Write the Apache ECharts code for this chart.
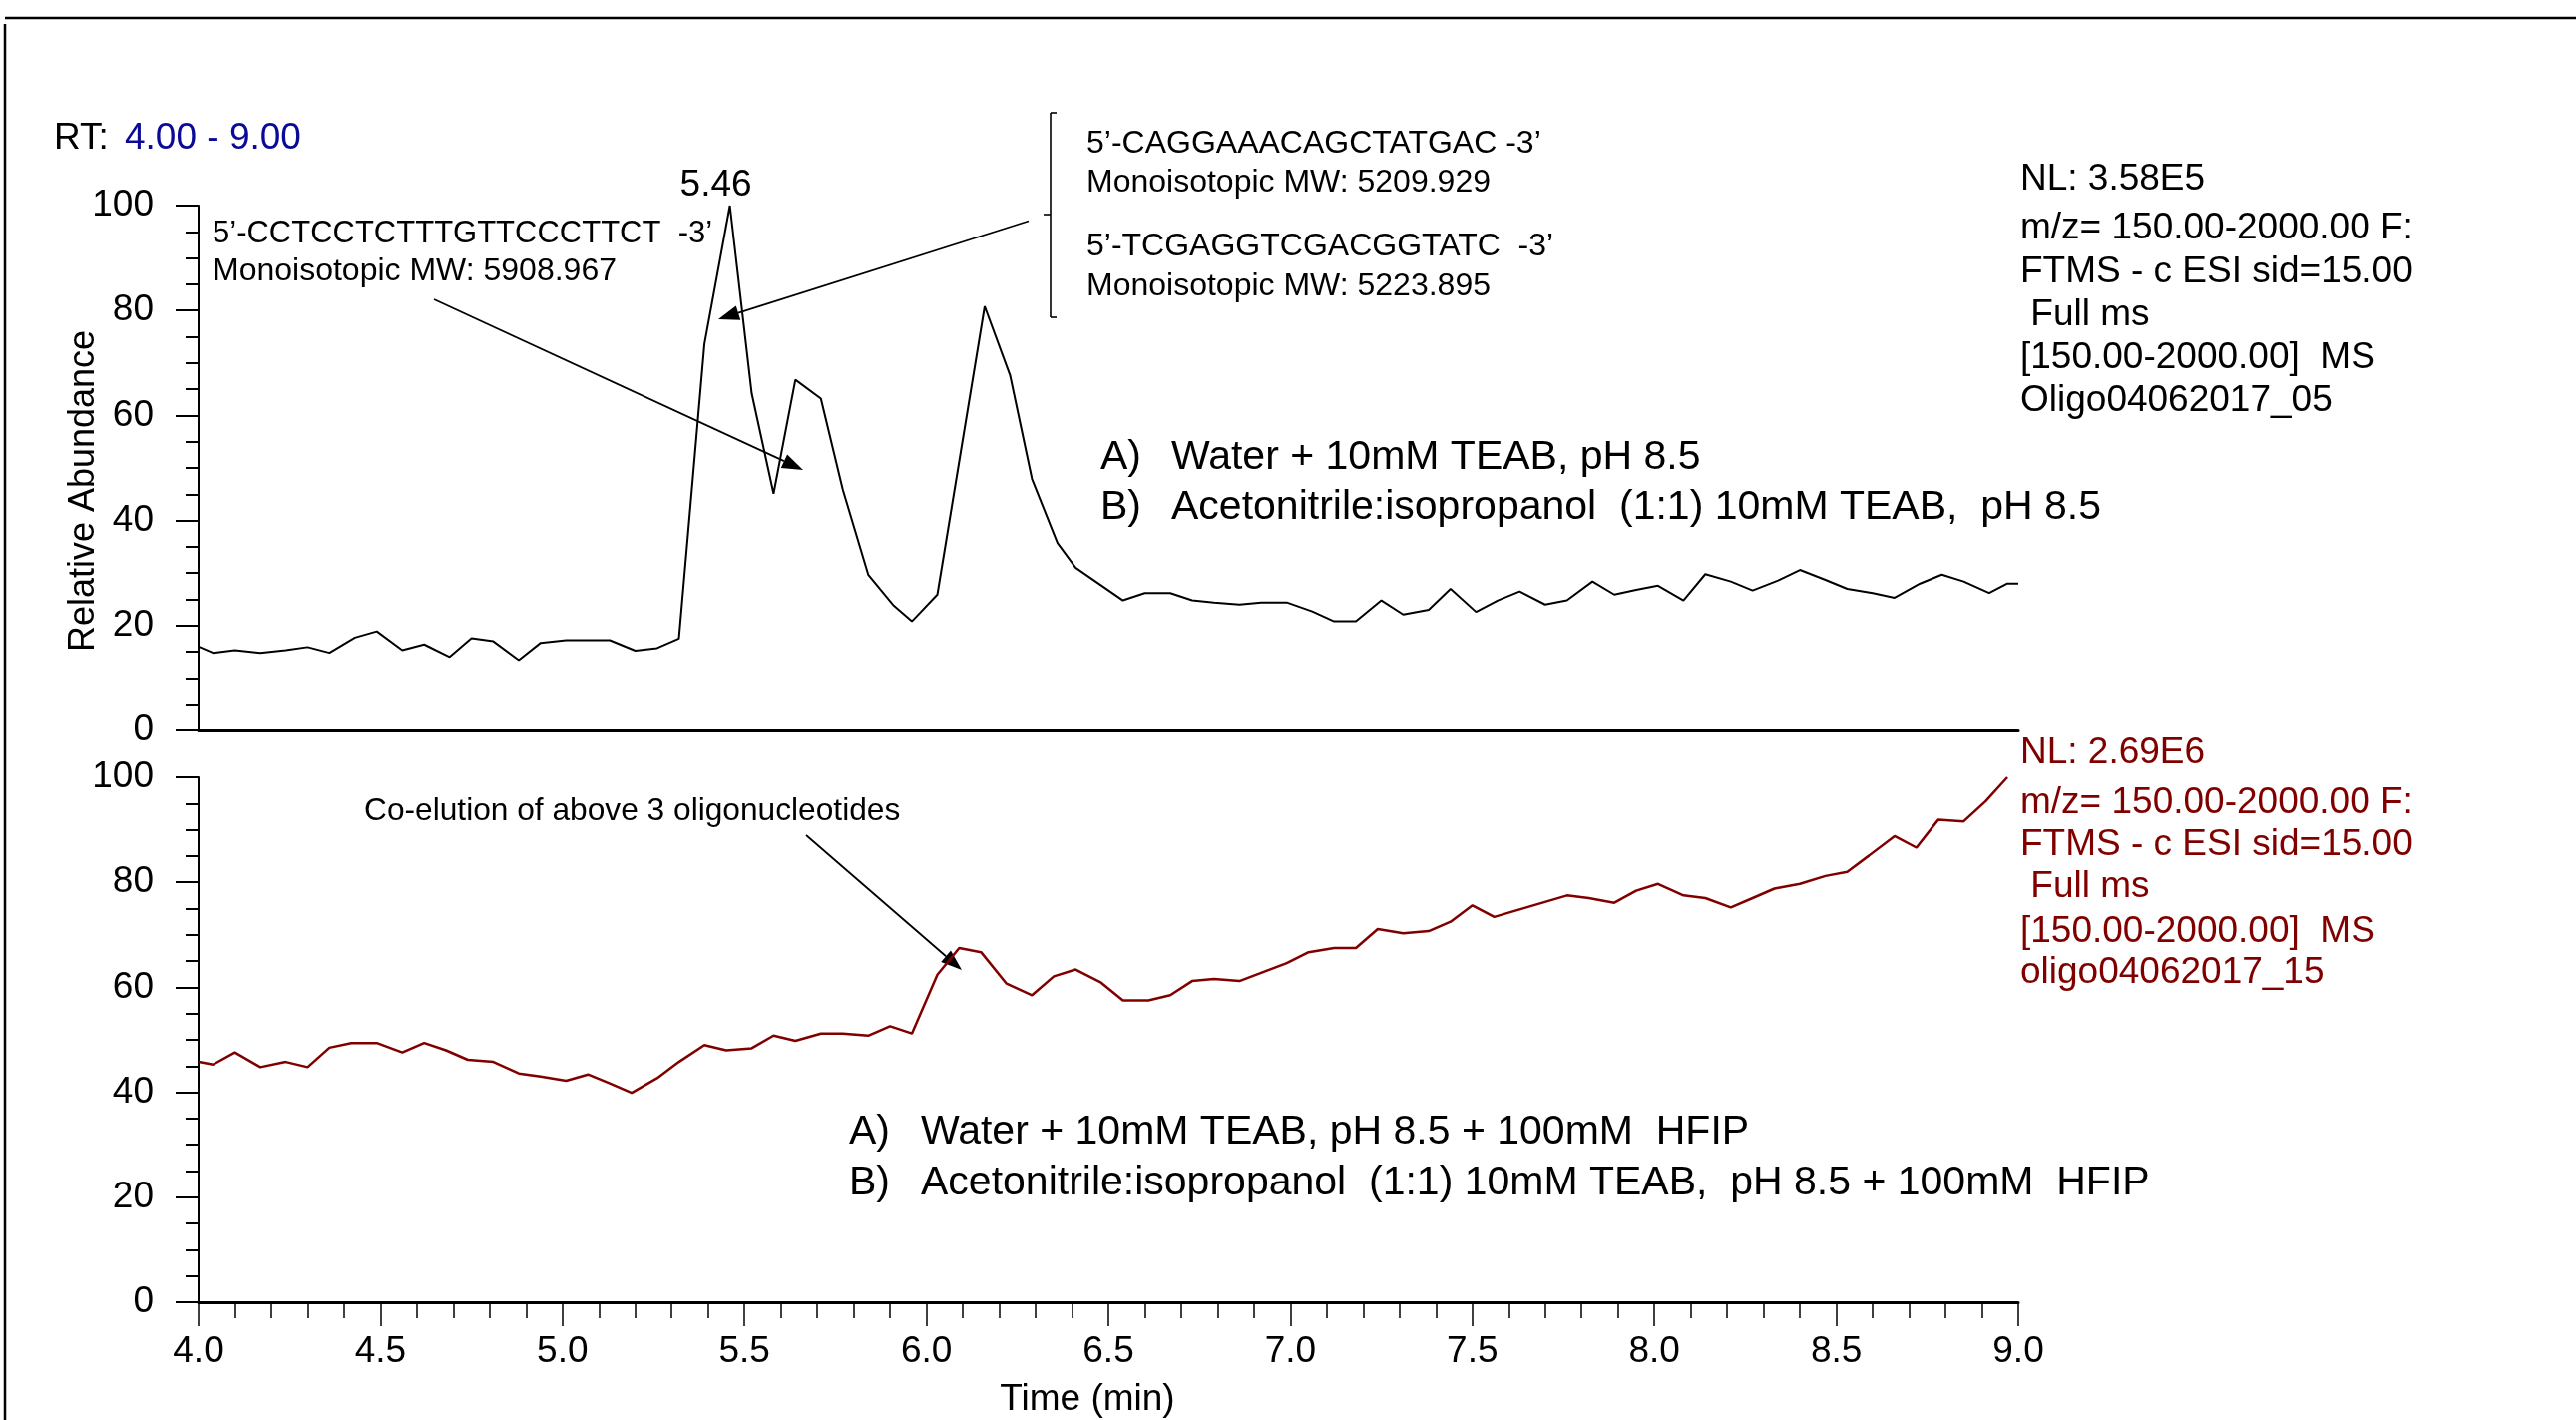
<!DOCTYPE html>
<html>
<head>
<meta charset="utf-8">
<script src="https://cdn.jsdelivr.net/npm/echarts@6/dist/echarts.min.js"></script>
<style>
html, body { margin: 0; padding: 0; background: #fff; }
#chart { width: 2582px; height: 1423px; }
</style>
</head>
<body>
<div id="chart"></div>
<script>
// Retention-time window (min) and relative-abundance range (%)
const timeRange = [4, 9];
const abundanceRange = [0, 100];

// Upper trace: TEAB mobile phase (NL 3.58E5)
const topTime = [4.00, 4.04, 4.10, 4.17, 4.24, 4.30, 4.36, 4.43, 4.49, 4.56, 4.62, 4.69, 4.75, 4.81, 4.88, 4.94,
  5.01, 5.07, 5.13, 5.20, 5.26, 5.32, 5.39, 5.46, 5.52, 5.58, 5.64, 5.71, 5.77, 5.84, 5.91, 5.96,
  6.03, 6.16, 6.23, 6.29, 6.36, 6.41, 6.54, 6.60, 6.67, 6.73, 6.79, 6.86, 6.92, 6.99,
  7.06, 7.12, 7.18, 7.25, 7.31, 7.38, 7.44, 7.51, 7.57, 7.63, 7.70, 7.76, 7.83, 7.89, 7.95,
  8.01, 8.08, 8.14, 8.21, 8.27, 8.34, 8.40, 8.47, 8.53, 8.60, 8.66, 8.73, 8.79, 8.85, 8.92, 8.97, 9.00];
const topValue = [16.0, 14.8, 15.3, 14.8, 15.3, 15.9, 14.8, 17.7, 18.9, 15.3, 16.4, 14.0, 17.6, 17.0, 13.4, 16.7,
  17.2, 17.2, 17.2, 15.2, 15.7, 17.5, 73.6, 100, 64.2, 45.1, 66.8, 63.2, 45.9, 29.7, 23.8, 20.8,
  25.9, 80.8, 67.6, 47.9, 35.7, 31.0, 24.8, 26.2, 26.2, 24.8, 24.4, 24.0, 24.4, 24.4,
  22.7, 20.8, 20.8, 24.8, 22.1, 23.0, 27.0, 22.6, 24.8, 26.5, 24.0, 24.8, 28.4, 25.9, 26.8,
  27.6, 24.8, 29.8, 28.4, 26.7, 28.6, 30.6, 28.7, 27.0, 26.2, 25.3, 28.0, 29.7, 28.4, 26.2, 28.0, 28.0];

// Lower trace: TEAB + HFIP mobile phase (NL 2.69E6)
const botTime = [4.00, 4.04, 4.10, 4.17, 4.24, 4.30, 4.36, 4.42, 4.49, 4.56, 4.62, 4.68, 4.74, 4.81, 4.88, 4.94,
  5.01, 5.07, 5.13, 5.19, 5.26, 5.32, 5.39, 5.45, 5.52, 5.58, 5.64, 5.71, 5.77, 5.84, 5.90, 5.96,
  6.03, 6.09, 6.15, 6.22, 6.29, 6.35, 6.41, 6.48, 6.54, 6.61, 6.67, 6.73, 6.79, 6.86, 6.99,
  7.05, 7.12, 7.18, 7.24, 7.31, 7.38, 7.44, 7.50, 7.56, 7.76, 7.82, 7.89, 7.95,
  8.01, 8.08, 8.14, 8.21, 8.27, 8.33, 8.40, 8.47, 8.53, 8.59, 8.66, 8.72, 8.78, 8.85, 8.91, 8.97];
const botValue = [45.8, 45.3, 47.6, 44.8, 45.8, 44.8, 48.5, 49.4, 49.4, 47.6, 49.4, 48.0, 46.2, 45.8, 43.6, 43.0,
  42.2, 43.4, 41.7, 39.9, 42.7, 45.8, 49.0, 48.0, 48.4, 50.8, 49.8, 51.2, 51.2, 50.8, 52.6, 51.2,
  62.4, 67.5, 66.7, 60.7, 58.5, 62.1, 63.4, 60.9, 57.5, 57.5, 58.5, 61.2, 61.6, 61.2, 64.6,
  66.7, 67.5, 67.5, 71.1, 70.3, 70.7, 72.5, 75.6, 73.4, 77.5, 77.0, 76.1, 78.4,
  79.7, 77.5, 77.0, 75.2, 77.0, 78.8, 79.7, 81.2, 82.0, 85.1, 88.8, 86.6, 91.9, 91.6, 95.4, 100];

const FONT = '"Liberation Sans", Arial, Helvetica, sans-serif';
const MAROON = '#800000';
const NAVY = '#0a0a96';

const zip = (xs, ys) => xs.map((x, i) => [x, ys[i]]);
const topData = zip(topTime, topValue);
const botData = zip(botTime, botValue);
const peakIdx = topValue.indexOf(Math.max(...topValue));
const peakPoint = topData[peakIdx];

function txt(x, y, text, size, color, extra) {
  return Object.assign({
    type: 'text', x: x, y: y, silent: true,
    style: { text: text, fill: color || '#000', font: size + 'px ' + FONT, verticalAlign: 'middle', align: 'left' }
  }, extra || {});
}
function seg(x1, y1, x2, y2, w) {
  return { type: 'line', silent: true, shape: { x1: x1, y1: y1, x2: x2, y2: y2 },
    style: { stroke: '#000', lineWidth: w || 1.6 } };
}
function arrow(x1, y1, x2, y2) {
  const a = Math.atan2(y2 - y1, x2 - x1), L = 21, H = 7.5;
  const bx = x2 - L * Math.cos(a), by = y2 - L * Math.sin(a);
  const nx = -Math.sin(a), ny = Math.cos(a);
  return [
    seg(x1, y1, bx, by, 1.8),
    { type: 'polygon', silent: true,
      shape: { points: [[x2, y2], [bx + H * nx, by + H * ny], [bx - H * nx, by - H * ny]] },
      style: { fill: '#000' } }
  ];
}

function yAxis(gi) {
  return {
    type: 'value', gridIndex: gi, min: abundanceRange[0], max: abundanceRange[1], interval: 20,
    axisLine: { show: true, lineStyle: { color: '#000', width: 2 } },
    axisTick: { show: true, inside: false, length: 23, lineStyle: { color: '#000', width: 2 } },
    minorTick: { show: true, splitNumber: 4, length: 13, lineStyle: { color: '#000', width: 2 } },
    axisLabel: { fontSize: 37, color: '#000', fontFamily: FONT, margin: 45 },
    splitLine: { show: false }, minorSplitLine: { show: false }
  };
}

const rightTop = ['NL: 3.58E5', 'm/z= 150.00-2000.00 F:', 'FTMS - c ESI sid=15.00', ' Full ms', '[150.00-2000.00]  MS', 'Oligo04062017_05'];
const rightBot = ['NL: 2.69E6', 'm/z= 150.00-2000.00 F:', 'FTMS - c ESI sid=15.00', ' Full ms', '[150.00-2000.00]  MS', 'oligo04062017_15'];
const rightTopY = [180, 229, 272.5, 316, 359, 401.5];
const rightBotY = [755, 805, 847, 889, 934, 975];

const graphics = [
  // page frame
  seg(5, 18, 2582, 18, 2.5),
  seg(5, 24, 5, 1423, 2.5),
  // run range
  txt(54, 138.5, 'RT:', 37),
  txt(125, 138.5, '4.00 - 9.00', 37, NAVY),
  // axis titles
  txt(84, 492, 'Relative Abundance', 36, '#000', { rotation: Math.PI / 2, style: { text: 'Relative Abundance', fill: '#000', font: '36px ' + FONT, align: 'center', verticalAlign: 'middle' } }),
  txt(1090, 1403, 'Time (min)', 37, '#000', { style: { text: 'Time (min)', fill: '#000', font: '37px ' + FONT, align: 'center', verticalAlign: 'middle' } }),
  // oligo annotations
  txt(213, 234, '5\u2019-CCTCCTCTTTGTTCCCTTCT  -3\u2019', 31),
  txt(213, 272.5, 'Monoisotopic MW: 5908.967', 32),
  txt(1089, 144, '5\u2019-CAGGAAACAGCTATGAC -3\u2019', 32),
  txt(1089, 183, 'Monoisotopic MW: 5209.929', 32),
  txt(1089, 247, '5\u2019-TCGAGGTCGACGGTATC  -3\u2019', 32),
  txt(1089, 287.5, 'Monoisotopic MW: 5223.895', 32),
  // bracket around the two co-eluting strands
  seg(1053, 113, 1053, 318, 1.6),
  seg(1053, 113, 1059, 113, 1.6),
  seg(1053, 318, 1059, 318, 1.6),
  seg(1046, 215, 1053, 215, 1.6),
  ...arrow(435, 300, 805, 471),
  ...arrow(1031, 221.5, 720, 320),
  // mobile phases, upper run
  txt(1103, 458.5, 'A)', 41),
  txt(1174, 458.5, 'Water + 10mM TEAB, pH 8.5', 41),
  txt(1103, 508.5, 'B)', 41),
  txt(1174, 508.5, 'Acetonitrile:isopropanol  (1:1) 10mM TEAB,  pH 8.5', 41),
  // lower run
  txt(365, 813.5, 'Co-elution of above 3 oligonucleotides', 31.7),
  ...arrow(808, 837, 964, 972),
  txt(851, 1135, 'A)', 41),
  txt(923, 1135, 'Water + 10mM TEAB, pH 8.5 + 100mM  HFIP', 41),
  txt(851, 1185.5, 'B)', 41),
  txt(923, 1185.5, 'Acetonitrile:isopropanol  (1:1) 10mM TEAB,  pH 8.5 + 100mM  HFIP', 41)
];
rightTop.forEach((t, i) => graphics.push(txt(2025, rightTopY[i], t, 37)));
rightBot.forEach((t, i) => graphics.push(txt(2025, rightBotY[i], t, 37, MAROON)));

const chart = echarts.init(document.getElementById('chart'), null, { renderer: 'canvas' });
chart.setOption({
  animation: false,
  backgroundColor: '#fff',
  grid: [
    { left: 199, right: 559, top: 206, height: 526, containLabel: false, outerBoundsMode: 'none' },
    { left: 199, right: 559, top: 779, height: 526, containLabel: false, outerBoundsMode: 'none' }
  ],
  xAxis: [
    {
      type: 'value', gridIndex: 0, min: timeRange[0], max: timeRange[1], interval: 0.5,
      axisLine: { show: true, onZero: false, lineStyle: { color: '#000', width: 3 } },
      axisTick: { show: false }, axisLabel: { show: false }, splitLine: { show: false }
    },
    {
      type: 'value', gridIndex: 1, min: timeRange[0], max: timeRange[1], interval: 0.5,
      axisLine: { show: true, onZero: false, lineStyle: { color: '#000', width: 3 } },
      axisTick: { show: true, inside: false, length: 24, lineStyle: { color: '#000', width: 1.5 } },
      minorTick: { show: true, splitNumber: 5, length: 16, lineStyle: { color: '#000', width: 1.5 } },
      axisLabel: { fontSize: 37, color: '#000', fontFamily: FONT, margin: 31, formatter: v => v.toFixed(1) },
      splitLine: { show: false }, minorSplitLine: { show: false }
    }
  ],
  yAxis: [yAxis(0), yAxis(1)],
  series: [
    {
      type: 'line', xAxisIndex: 0, yAxisIndex: 0, data: topData, showSymbol: false,
      lineStyle: { color: '#000', width: 2 }, itemStyle: { color: '#000' }, silent: true
    },
    {
      // retention-time label on the base peak
      type: 'scatter', xAxisIndex: 0, yAxisIndex: 0, data: [peakPoint], symbolSize: 0,
      itemStyle: { color: '#000' }, silent: true,
      label: { show: true, position: 'top', distance: 2, offset: [-14, 0], fontSize: 37, color: '#000',
        opacity: 1, fontFamily: FONT, formatter: p => p.value[0].toFixed(2) }
    },
    {
      type: 'line', xAxisIndex: 1, yAxisIndex: 1, data: botData, showSymbol: false,
      lineStyle: { color: MAROON, width: 2.5 }, itemStyle: { color: MAROON }, silent: true
    }
  ],
  graphic: { elements: graphics }
});
</script>
</body>
</html>
